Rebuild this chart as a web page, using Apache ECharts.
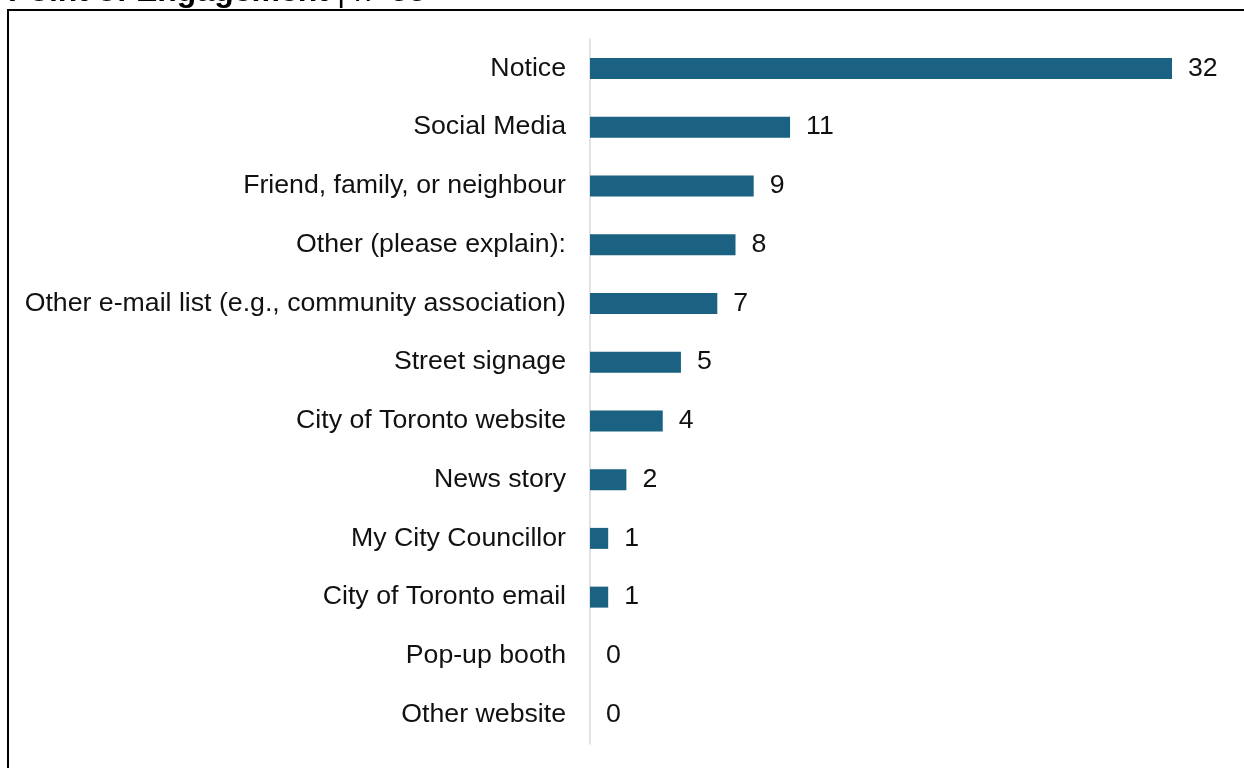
<!DOCTYPE html>
<html>
<head>
<meta charset="utf-8">
<script src="https://cdn.jsdelivr.net/npm/echarts@6/dist/echarts.min.js"></script>
<style>
  html, body { margin: 0; padding: 0; background: #ffffff; }
  #chart { width: 1244px; height: 768px; }
</style>
</head>
<body>
<div id="chart"></div>
<script>
// Survey responses: how respondents heard about the engagement
const categories = [
  'Notice',
  'Social Media',
  'Friend, family, or neighbour',
  'Other (please explain):',
  'Other e-mail list (e.g., community association)',
  'Street signage',
  'City of Toronto website',
  'News story',
  'My City Councillor',
  'City of Toronto email',
  'Pop-up booth',
  'Other website'
];
const counts = [32, 11, 9, 8, 7, 5, 4, 2, 1, 1, 0, 0];

const titleMain = 'Point of Engagement';
const titleSub = ' | n=55';

const FONT = 'Liberation Sans, Arial, sans-serif';
const chart = echarts.init(document.getElementById('chart'), null, { renderer: 'canvas' });

chart.setOption({
  animation: false,
  backgroundColor: '#ffffff',
  textStyle: { fontFamily: FONT },
  graphic: [
    {
      type: 'rect',
      shape: { x: 8, y: 10, width: 1260, height: 780 },
      style: { fill: 'none', stroke: '#000000', lineWidth: 2 },
      silent: true
    },
    {
      type: 'text',
      left: 8,
      top: -24,
      style: {
        rich: {
          b: { fontSize: 32, fontWeight: 'bold', fill: '#000000', fontFamily: FONT },
          r: { fontSize: 32, fill: '#000000', fontFamily: FONT }
        },
        text: '{b|' + titleMain + '}{r|' + titleSub + '}'
      },
      silent: true
    }
  ],
  grid: {
    left: 590,
    right: 72,
    top: 39,
    height: 705,
    containLabel: false
  },
  xAxis: {
    type: 'value',
    min: 0,
    max: 32,
    show: false
  },
  yAxis: {
    type: 'category',
    inverse: true,
    data: categories,
    axisLine: { show: true, lineStyle: { color: '#d9d9d9', width: 1.5 } },
    axisTick: { show: false },
    axisLabel: {
      color: '#111111',
      fontSize: 26.7,
      margin: 24,
      fontFamily: FONT
    },
    splitLine: { show: false }
  },
  series: [
    {
      type: 'bar',
      data: counts,
      barWidth: 21,
      itemStyle: { color: '#1a6182' },
      label: {
        show: true,
        position: 'right',
        distance: 16,
        color: '#111111',
        fontSize: 26.7,
        fontFamily: FONT
      }
    }
  ]
});
</script>
</body>
</html>
